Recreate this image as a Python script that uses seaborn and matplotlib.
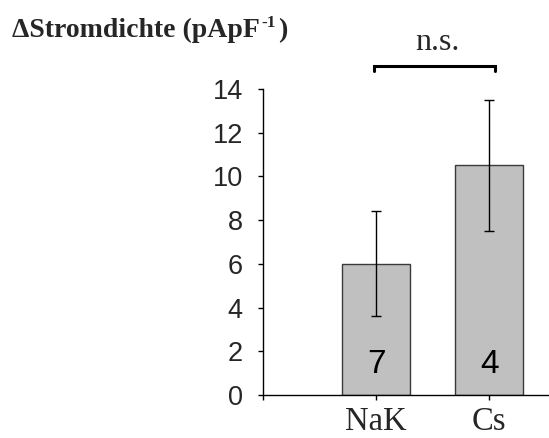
import matplotlib
matplotlib.use("Agg")
import matplotlib.pyplot as plt
import seaborn as sns
import pandas as pd

# Data
categories = ["NaK", "Cs"]
axis_order = ["", "NaK", "Cs"]
means = [6.0, 10.5]
errors = [2.4, 3.0]
n_cells = ["7", "4"]
y_ticks = [0, 2, 4, 6, 8, 10, 12, 14]

sns.set_theme(style="white")
plt.rcParams["font.family"] = ["Liberation Sans", "DejaVu Sans"]

fig = plt.figure(figsize=(5.49, 4.38), dpi=100)
ax = fig.add_axes([0.479, 0.0982, 0.521, 0.6986])

df = pd.DataFrame({"cond": categories, "val": means})
sns.barplot(data=df, x="cond", y="val", order=axis_order, width=0.6,
            color="#C0C0C0", edgecolor="#3a3a3a", linewidth=1.0,
            errorbar=None, saturation=1, ax=ax)

pos = [axis_order.index(c) for c in categories]
ax.errorbar(pos, means, yerr=errors, fmt="none", ecolor="black",
            elinewidth=1.0, capsize=3.6, capthick=1.0, zorder=5)

for p, n in zip(pos, n_cells):
    ax.text(p, 1.4, n, ha="center", va="center", fontsize=24,
            color="black")

ax.set_xlim(0, 2.53)
ax.set_ylim(0, 14)
ax.set_yticks(y_ticks)
ax.set_yticklabels([str(t) for t in y_ticks], fontsize=19.5)
ax.set_xticks([0, 1, 2])
ax.set_xticklabels(axis_order, fontsize=23.5, family=["Liberation Serif"])
ax.set_xlabel("")
ax.set_ylabel("")

for side in ["top", "right"]:
    ax.spines[side].set_visible(False)
for side in ["left", "bottom"]:
    ax.spines[side].set_color("black")
    ax.spines[side].set_linewidth(1.0)

ax.tick_params(axis="both", which="both", direction="out", length=3.5,
               width=1.0, color="black", left=True, bottom=True)
ax.tick_params(axis="y", pad=11)
ax.tick_params(axis="x", pad=5)

# Significance bracket
bx0, bx1, by, bdrop = 0.98, 2.05, 15.07, 14.82
ax.plot([bx0, bx0, bx1, bx1], [bdrop, by, by, bdrop], color="black",
        lw=2.2, clip_on=False, solid_joinstyle="miter")
ax.text(1.545, 15.78, "n.s.", ha="center", va="baseline",
        fontsize=23, family=["Liberation Serif"])

# Unit title with a small raised exponent
title_kw = dict(fontweight="bold", family=["Liberation Serif"],
                va="baseline", ha="left")
t1 = fig.text(12 / 549, 1 - 37.3 / 438, "\u0394Stromdichte (pApF",
              fontsize=20, **title_kw)
fig.canvas.draw()
r = fig.canvas.get_renderer()
bb = t1.get_window_extent(r)
base_px = fig.bbox.height - 37.3
t2 = fig.text((bb.x1 + 2) / fig.bbox.width, (base_px + 10) / fig.bbox.height,
              "-1", fontsize=12.5, **title_kw)
fig.canvas.draw()
bb2 = t2.get_window_extent(r)
fig.text((bb2.x1 + 2) / fig.bbox.width, base_px / fig.bbox.height, ")",
         fontsize=20, **title_kw)

fig.savefig("out.png", dpi=100)
